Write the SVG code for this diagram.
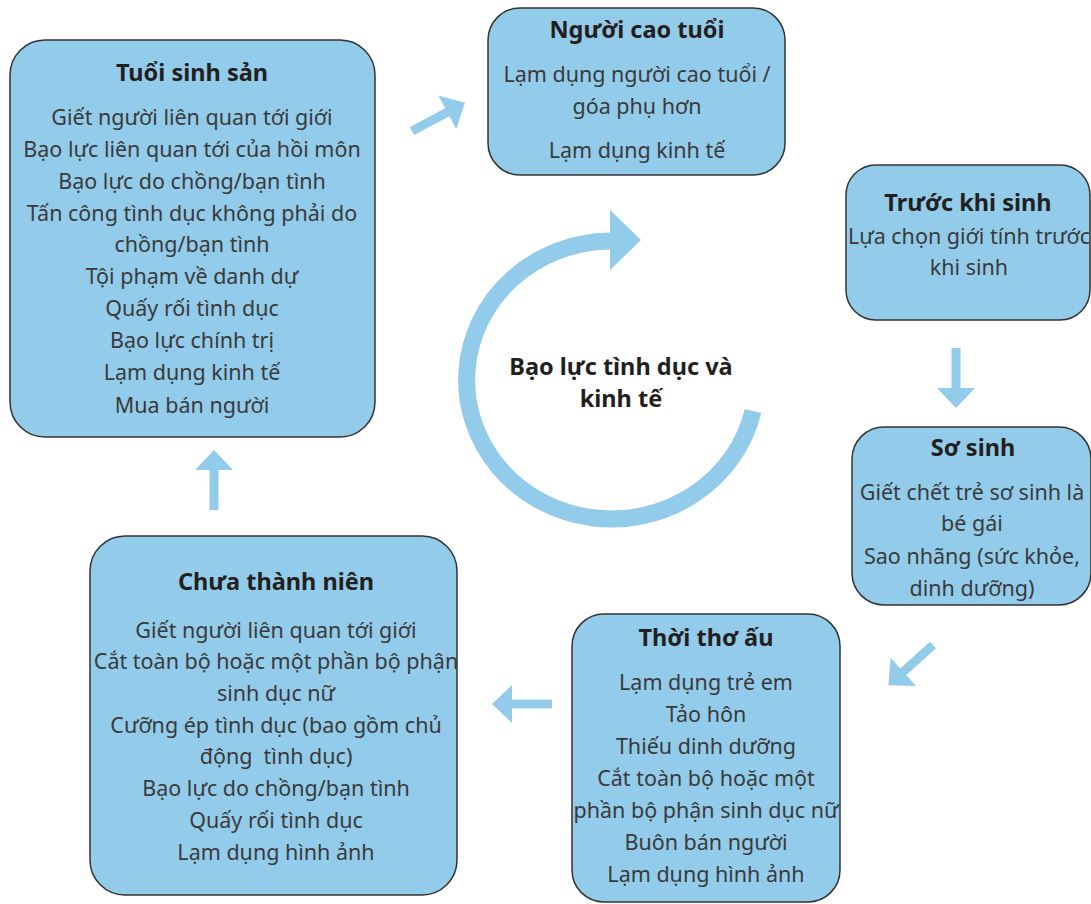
<svg xmlns="http://www.w3.org/2000/svg" width="1091" height="904" viewBox="0 0 1091 904">
<style>
.box{fill:#93CBEA;stroke:#333333;stroke-width:1.5}
.t{font-family:"Noto Sans","Open Sans",sans-serif;font-weight:bold;font-size:23.5px;fill:#231F20;text-anchor:middle}
.b{font-family:"Noto Sans","Open Sans",sans-serif;font-size:21.5px;fill:#3a3a3a;text-anchor:middle}
.arr{fill:#93CBEA}
</style>
<defs>
<g id="arrow"><rect x="0" y="-4.5" width="41" height="9"/><polygon points="40,-19 60,0 40,19"/></g>
</defs>
<rect width="1091" height="904" fill="#ffffff"/>
<g id="connectors" class="arr">
<path d="M 753 411 A 145 139 0 1 1 610 241" fill="none" stroke="#93CBEA" stroke-width="17"/>
<polygon points="610,210 641,240 610,270"/>
<use href="#arrow" transform="translate(412,131) rotate(-28)"/>
<use href="#arrow" transform="translate(956,348) rotate(90)"/>
<use href="#arrow" transform="translate(933,645) rotate(138)"/>
<use href="#arrow" transform="translate(552,704) rotate(180)"/>
<use href="#arrow" transform="translate(214,510) rotate(-90)"/>
</g>
<g id="center">
<text class="t" x="621" y="375">Bạo lực tình dục và</text>
<text class="t" x="621" y="407">kinh tế</text>
</g>
<g id="tuoi-sinh-san">
<rect class="box" x="10" y="40" width="365" height="397" rx="35"/>
<text class="t" x="192" y="81">Tuổi sinh sản</text>
<text class="b" x="192" y="125">Giết người liên quan tới giới</text>
<text class="b" x="192" y="157">Bạo lực liên quan tới của hồi môn</text>
<text class="b" x="192" y="189">Bạo lực do chồng/bạn tình</text>
<text class="b" x="192" y="221">Tấn công tình dục không phải do</text>
<text class="b" x="192" y="252">chồng/bạn tình</text>
<text class="b" x="192" y="284">Tội phạm về danh dự</text>
<text class="b" x="192" y="316">Quấy rối tình dục</text>
<text class="b" x="192" y="348">Bạo lực chính trị</text>
<text class="b" x="192" y="380">Lạm dụng kinh tế</text>
<text class="b" x="192" y="413">Mua bán người</text>
</g>
<g id="nguoi-cao-tuoi">
<rect class="box" x="488" y="8" width="297" height="167" rx="32"/>
<text class="t" x="637" y="38">Người cao tuổi</text>
<text class="b" x="637" y="82">Lạm dụng người cao tuổi /</text>
<text class="b" x="637" y="114">góa phụ hơn</text>
<text class="b" x="637" y="158">Lạm dụng kinh tế</text>
</g>
<g id="truoc-khi-sinh">
<rect class="box" x="846" y="165" width="244" height="155" rx="30"/>
<text class="t" x="968" y="211">Trước khi sinh</text>
<text class="b" x="969" y="244">Lựa chọn giới tính trước</text>
<text class="b" x="969" y="275">khi sinh</text>
</g>
<g id="so-sinh">
<rect class="box" x="852" y="427" width="239" height="178" rx="32"/>
<text class="t" x="973" y="456">Sơ sinh</text>
<text class="b" x="972" y="500">Giết chết trẻ sơ sinh là</text>
<text class="b" x="972" y="531">bé gái</text>
<text class="b" x="972" y="564">Sao nhãng (sức khỏe,</text>
<text class="b" x="972" y="596">dinh dưỡng)</text>
</g>
<g id="thoi-tho-au">
<rect class="box" x="572" y="614" width="268" height="288" rx="32"/>
<text class="t" x="706" y="646">Thời thơ ấu</text>
<text class="b" x="706" y="690">Lạm dụng trẻ em</text>
<text class="b" x="706" y="722">Tảo hôn</text>
<text class="b" x="706" y="754">Thiếu dinh dưỡng</text>
<text class="b" x="706" y="786">Cắt toàn bộ hoặc một</text>
<text class="b" x="706" y="818">phần bộ phận sinh dục nữ</text>
<text class="b" x="706" y="850">Buôn bán người</text>
<text class="b" x="706" y="882">Lạm dụng hình ảnh</text>
</g>
<g id="chua-thanh-nien">
<rect class="box" x="90" y="536" width="367" height="359" rx="35"/>
<text class="t" x="276" y="590">Chưa thành niên</text>
<text class="b" x="276" y="638">Giết người liên quan tới giới</text>
<text class="b" x="276" y="669">Cắt toàn bộ hoặc một phần bộ phận</text>
<text class="b" x="276" y="701">sinh dục nữ</text>
<text class="b" x="276" y="733">Cưỡng ép tình dục (bao gồm chủ</text>
<text class="b" x="276" y="764" style="white-space:pre">động  tình dục)</text>
<text class="b" x="276" y="796">Bạo lực do chồng/bạn tình</text>
<text class="b" x="276" y="828">Quấy rối tình dục</text>
<text class="b" x="276" y="860">Lạm dụng hình ảnh</text>
</g>
</svg>
